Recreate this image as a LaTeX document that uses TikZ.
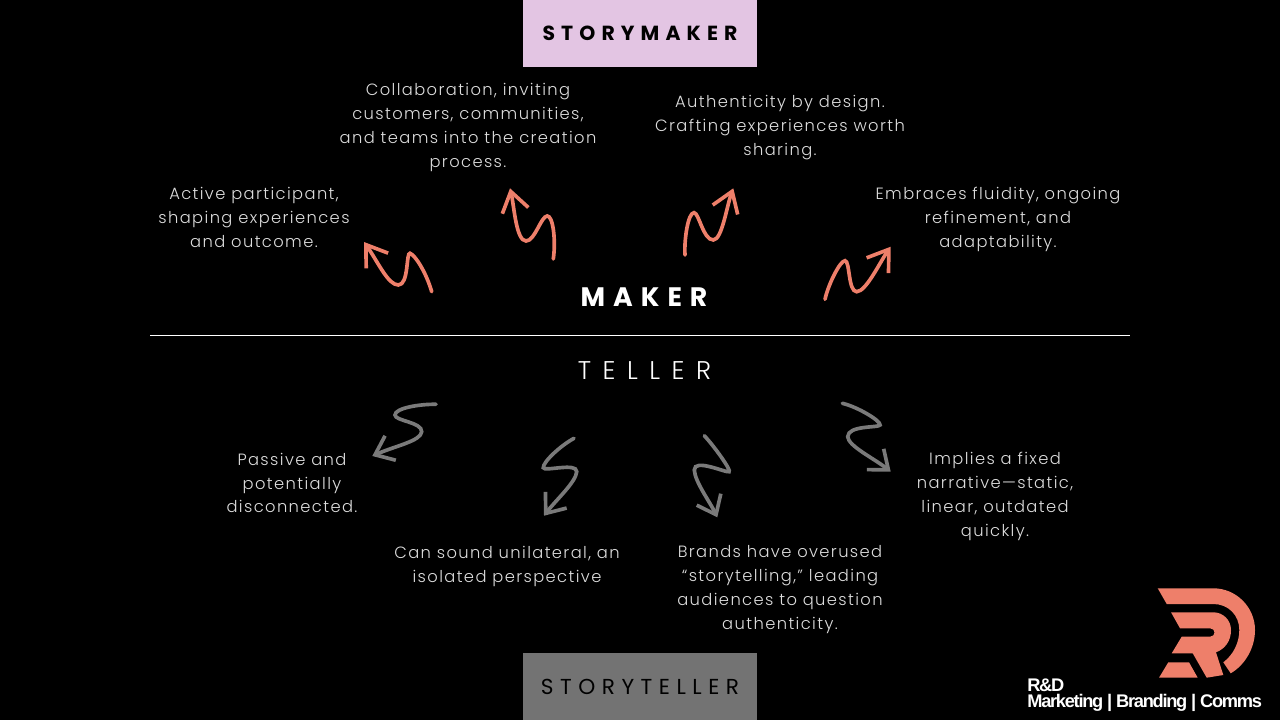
\documentclass[tikz,border=0pt]{standalone}
\usepackage{fontspec}
\usepackage{xcolor}
\usetikzlibrary{arrows.meta}
\setmainfont{Poppins}
\newfontfamily\bodyfont[LetterSpace=8.5]{Poppins Light}
\newfontfamily\headfont[LetterSpace=30]{Poppins}
\newfontfamily\logofont[LetterSpace=-7]{Liberation Sans Bold}
\definecolor{coral}{HTML}{EE7F6A}
\definecolor{ash}{HTML}{7A7A7A}
\definecolor{mauve}{HTML}{E3C5E3}
\definecolor{slate}{HTML}{737373}
\definecolor{paper}{HTML}{DDDDDD}
\tikzset{
    bodytext/.style = {text = paper, align = center, font = \bodyfont\fontsize{11.6}{17}\selectfont},
    banner/.style = {minimum width = 5.85cm, minimum height = 1.675cm, inner sep = 0},
    makerline/.style = {coral, line width = 2.6pt, line cap = round, arrows = {-Straight Barb[length=14pt,width=19pt]}},
    tellerline/.style = {ash, line width = 2.6pt, line cap = round, arrows = {-Straight Barb[length=12pt,width=19pt]}}
}

\begin{document}
\begin{tikzpicture}[x=0.025cm, y=-0.025cm]
    \fill[black] (0,0) rectangle (1280,720);
    \useasboundingbox (0,0) rectangle (1280,720);

    % banners
    \node[banner, fill = mauve, font = \headfont\bfseries\fontsize{14.5}{18}\selectfont, text = black] (storymaker) at (640,33.5) {STORYMAKER};
    \node[banner, fill = slate, font = \headfont\fontsize{15.4}{18}\selectfont, text = black] (storyteller) at (640,686.5) {STORYTELLER};

    % divider
    \coordinate (d1) at (150,335);
    \coordinate (d2) at (1130,335);
    \draw[white, line width = 0.6pt] (d1) -- (d2);
    \node[text = white, font = \headfont\bfseries\fontsize{19}{20}\selectfont] (maker) at (644,297) {MAKER};
    \node[text = white, font = \bodyfont\addfontfeature{LetterSpace=45}\fontsize{18.2}{20}\selectfont] (teller) at (644.5,371) {TELLER};

    % upper labels
    \node[bodytext] (m1) at (254,217.5) {Active participant,\\shaping experiences\\and outcome.};
    \node[bodytext] (m2) at (468,127.5) {Collaboration, inviting\\customers, communities,\\and teams into the creation\\process.};
    \node[bodytext] (m3) at (780,127.5) {Authenticity by design.\\Crafting experiences worth\\sharing.};
    \node[bodytext] (m4) at (998,219.5) {Embraces fluidity, ongoing\\refinement, and\\adaptability.};

    % lower labels
    \node[bodytext] (t1) at (292,483) {Passive and\\potentially\\disconnected.};
    \node[bodytext] (t2) at (507,566.5) {Can sound unilateral, an\\isolated perspective};
    \node[bodytext] (t3) at (780,589.5) {Brands have overused\\“storytelling,” leading\\audiences to question\\authenticity.};
    \node[bodytext] (t4) at (995,496.5) {Implies a fixed\\narrative—static,\\linear, outdated\\quickly.};

    % squiggles, maker side
    \coordinate (ma1) at (431.7,291.7);  \coordinate (mb1) at (364,242);
    \coordinate (ma2) at (553.3,259);    \coordinate (mb2) at (510,188.3);
    \coordinate (ma3) at (685,255);      \coordinate (mb3) at (733.3,188.3);
    \coordinate (ma4) at (825,299.3);    \coordinate (mb4) at (890.7,246.7);
    \draw[makerline] (ma1) .. controls (426,272) and (415,255) .. (410,253.3)
        .. controls (406,252) and (409,285) .. (398.3,285)
        .. controls (388,285) and (378,262) .. (mb1);
    \draw[makerline] (ma2) .. controls (556,240) and (553,216) .. (547.3,216)
        .. controls (541,216) and (535,241) .. (526,241)
        .. controls (516,241) and (514,205) .. (mb2);
    \draw[makerline] (ma3) .. controls (684,240) and (688,212.7) .. (694,212.7)
        .. controls (699,212.7) and (703,240) .. (713.3,240)
        .. controls (722,240) and (727,205) .. (mb3);
    \draw[makerline] (ma4) .. controls (828,285) and (840,260.7) .. (845,260.7)
        .. controls (850,260.7) and (848,291.7) .. (856.7,291.7)
        .. controls (866,291.7) and (880,262) .. (mb4);

    % squiggles, teller side
    \coordinate (ta1) at (436,404.3);    \coordinate (tb1) at (372.3,456);
    \coordinate (ta2) at (574,438.3);    \coordinate (tb2) at (544,515.7);
    \coordinate (ta3) at (704.3,435.7);  \coordinate (tb3) at (717.3,517.3);
    \coordinate (ta4) at (842.3,403.3);  \coordinate (tb4) at (890.7,471.7);
    \draw[tellerline] (ta1) .. controls (420,404) and (395,408) .. (395,415)
        .. controls (395,421) and (422,422) .. (421.7,431.7)
        .. controls (421,441) and (395,446) .. (tb1);
    \draw[tellerline] (ta2) .. controls (560,446) and (543,462) .. (543.3,467.7)
        .. controls (544,472) and (577,462) .. (576.7,471.7)
        .. controls (576,482) and (556,500) .. (tb2);
    \draw[tellerline] (ta3) .. controls (714,446) and (732,471) .. (729,471.7)
        .. controls (726,473) and (694,458) .. (694.3,470)
        .. controls (695,482) and (710,502) .. (tb3);
    \draw[tellerline] (ta4) .. controls (858,407) and (881,421) .. (880,425)
        .. controls (879,428) and (848,425) .. (847.7,436.7)
        .. controls (848,446) and (875,459) .. (tb4);

    % logo
    \fill[coral] (1157.7,588.3) -- (1213.3,588.3) .. controls (1236,588.3) and (1255,607) .. (1255,630)
        .. controls (1255,648) and (1245,665) .. (1230.7,673.3) -- (1223.3,662.3)
        .. controls (1233,655) and (1239.3,643) .. (1239.3,630)
        .. controls (1239.3,615) and (1228,604) .. (1213.3,604) -- (1166.7,604) -- cycle;
    \fill[coral] (1171,612.3) -- (1213.3,612.3) .. controls (1223,612.3) and (1231,620) .. (1231,630)
        .. controls (1231,641) and (1225,649) .. (1216,652.3) -- (1223.3,675) -- (1206.7,677.7)
        -- (1192.7,653.3) -- (1171.7,653.3) -- (1181.7,636.7) -- (1210,636.7)
        .. controls (1216,636.7) and (1216,628.3) .. (1210,628.3) -- (1180,628.3) -- cycle;
    \fill[coral] (1168.3,662.3) -- (1189,662.3) -- (1197.7,677.7) -- (1159,677.7) -- cycle;
    \node[anchor = west, inner sep = 0, text = white, align = left, font = \logofont\fontsize{13}{11.5}\selectfont] (brand) at (1027,695) {R\&D\\Marketing | Branding | Comms};
\end{tikzpicture}
\end{document}
